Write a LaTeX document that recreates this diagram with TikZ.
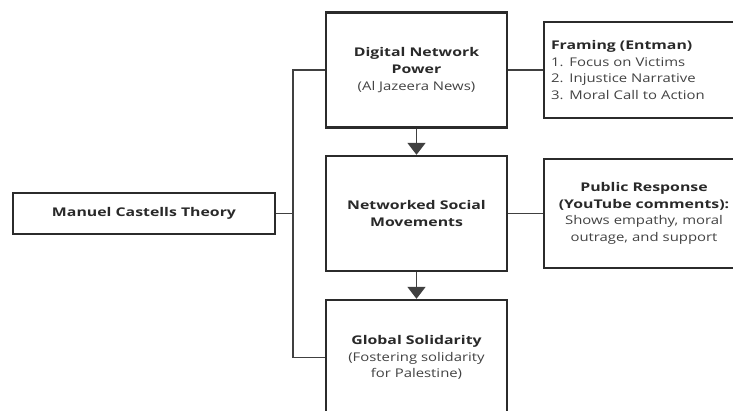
\documentclass[tikz,border=0pt]{standalone}
\usepackage{fontspec}
\setmainfont{Open Sans}[FakeStretch=1.24,BoldFeatures={FakeStretch=1.32}]
\usetikzlibrary{arrows.meta,positioning}
\definecolor{inkgray}{rgb}{0.17,0.17,0.17}
\definecolor{linegray}{rgb}{0.25,0.25,0.25}
\definecolor{textgray}{rgb}{0.16,0.16,0.16}
\definecolor{softgray}{rgb}{0.26,0.26,0.26}
\tikzset{
  theory/.style={
    draw=inkgray,
    line width=2.4pt,
    minimum width=262pt,
    minimum height=41pt,
    inner sep=0pt,
    text=textgray,
    font=\fontsize{12}{16.7}\selectfont\bfseries
  },
  stage/.style={
    draw=inkgray,
    line width=2.4pt,
    minimum width=181pt,
    minimum height=115pt,
    align=center,
    inner sep=0pt,
    text=textgray,
    font=\fontsize{12}{16.7}\selectfont
  },
  note/.style={
    draw=inkgray,
    line width=2.4pt,
    text width=186pt,
    inner xsep=7pt,
    inner ysep=0pt,
    text=textgray,
    font=\fontsize{12}{16.7}\selectfont
  },
  link/.style={
    line width=1.8pt,
    draw=linegray
  },
  arrow/.style={
    -{Triangle[width=18pt,length=12pt]},
    line width=1.8pt,
    linegray
  }
}

\begin{document}
\begin{tikzpicture}[x=1pt,y=-1pt,node distance=143.5pt,on grid]
\useasboundingbox (0,0) rectangle (733,410);
\node[stage] (dnp) at (416.5,70)
  {\textbf{Digital Network}\\\textbf{Power}\\{\color{softgray}(Al Jazeera News)}};
\node[stage,below=of dnp] (nsm) {\textbf{Networked Social}\\\textbf{Movements}};
\node[stage,below=144pt of nsm] (gs)
  {\textbf{Global Solidarity}\\{\color{softgray}(Fostering solidarity}\\{\color{softgray}for Palestine)}};
\node[theory] (mct) at (144,213.5) {Manuel Castells Theory};
\node[note,align=left,minimum height=96pt,right=227.5pt of dnp] (frm)
  {\textbf{Framing (Entman)}\\{\color{softgray}1. Focus on Victims}\\{\color{softgray}2. Injustice Narrative}\\{\color{softgray}3. Moral Call to Action}};
\node[note,align=center,minimum height=109pt,right=227.5pt of nsm] (pub)
  {\textbf{Public Response}\\\textbf{(YouTube comments):}\\{\color{softgray}Shows empathy, moral}\\{\color{softgray}outrage, and support}};
\coordinate (bus) at (293,213.5);

\draw[link] (mct.east) -- (bus);
\draw[link] (dnp.west) -| (bus) |- (gs.west);
\draw[link] (dnp.east) -- (frm.west);
\draw[link] (nsm.east) -- (pub.west);
\draw[arrow] (dnp.south) -- (nsm.north);
\draw[arrow] (nsm.south) -- (gs.north);
\end{tikzpicture}
\end{document}
